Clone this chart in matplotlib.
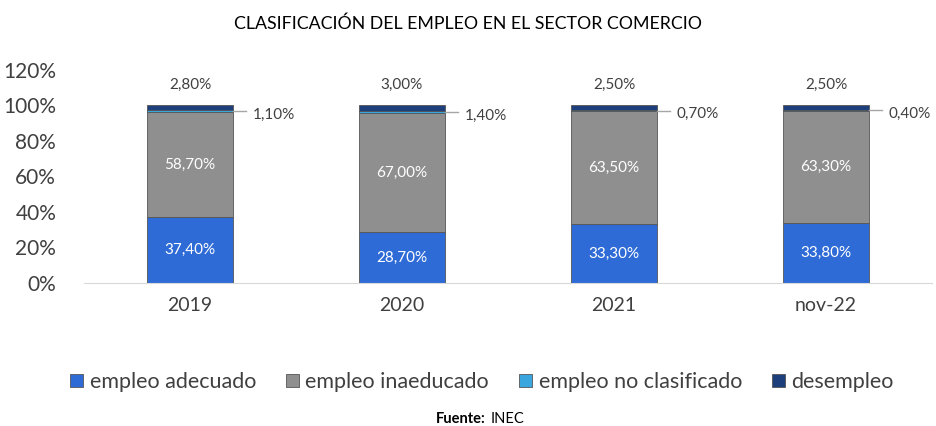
import matplotlib
matplotlib.use('Agg')
import matplotlib.pyplot as plt
import numpy as np

plt.rcParams['font.family'] = ['Lato', 'DejaVu Sans']

categories = ['2019', '2020', '2021', 'nov-22']
adecuado = [37.4, 28.7, 33.3, 33.8]
inadecuado = [58.7, 67.0, 63.5, 63.3]
no_clasificado = [1.1, 1.4, 0.7, 0.4]
desempleo = [2.8, 3.0, 2.5, 2.5]

series = [
    ('empleo adecuado', adecuado, '#2f6bd6'),
    ('empleo inaeducado', inadecuado, '#8f8f8f'),
    ('empleo no clasificado', no_clasificado, '#3aa6de'),
    ('desempleo', desempleo, '#1d3f7c'),
]


def fmt(v):
    return f'{v:.2f}%'.replace('.', ',')


fig = plt.figure(figsize=(9.36, 4.26), dpi=100)
ax = fig.add_axes([0.0897, 0.3357, 0.906, 0.5])

x = np.arange(len(categories))
width = 0.41
bottom = np.zeros(len(categories))
handles = []
for name, vals, color in series:
    vals = np.array(vals)
    b = ax.bar(x, vals, width, bottom=bottom, color=color, label=name,
               edgecolor='#555555', linewidth=0.6)
    handles.append(b)
    if name in ('empleo adecuado', 'empleo inaeducado'):
        for xi, bi, v in zip(x, bottom, vals):
            ax.text(xi, bi + v / 2, fmt(v), ha='center', va='center',
                    color='white', fontsize=11)
    elif name == 'empleo no clasificado':
        for xi, bi, v in zip(x, bottom, vals):
            yy = bi + v / 2
            ax.plot([xi + width / 2, xi + width / 2 + 0.06], [yy, yy],
                    color='#a6a6a6', lw=1)
            ax.text(xi + width / 2 + 0.09, yy - 2, fmt(v), ha='left',
                    va='center', color='#404040', fontsize=11)
    else:
        for xi, bi, v in zip(x, bottom, vals):
            ax.text(xi, 111.5, fmt(v), ha='center', va='center',
                    color='#404040', fontsize=11)
    bottom = bottom + vals

ax.set_xlim(-0.5, 3.5)
ax.set_ylim(0, 120)
ax.set_yticks(np.arange(0, 121, 20))
ax.set_yticklabels([f'{t}%' for t in range(0, 121, 20)], fontsize=15, color='#404040')
ax.set_xticks(x)
ax.set_xticklabels(categories, fontsize=14, color='#404040')
ax.tick_params(axis='both', length=0)
ax.tick_params(axis='y', pad=20)
ax.tick_params(axis='x', pad=10)
for s in ['top', 'right', 'left']:
    ax.spines[s].set_visible(False)
ax.spines['bottom'].set_color('#d9d9d9')

fig.text(0.5, 0.945, 'CLASIFICACIÓN DEL EMPLEO EN EL SECTOR COMERCIO',
         ha='center', va='center', fontsize=12.8, color='black')

fig.legend(handles=handles, loc='center', bbox_to_anchor=(0.515, 0.103),
           ncol=4, frameon=False, fontsize=15.5, handlelength=0.6,
           handleheight=0.6, handletextpad=0.3, columnspacing=1.4,
           labelcolor='#404040')

fig.text(0.519, 0.016, 'Fuente:', ha='right', va='center',
         fontsize=10.5, color='black', fontweight='bold')
fig.text(0.524, 0.016, 'INEC', ha='left', va='center',
         fontsize=10.5, color='black')

fig.savefig('out.png', dpi=100)
